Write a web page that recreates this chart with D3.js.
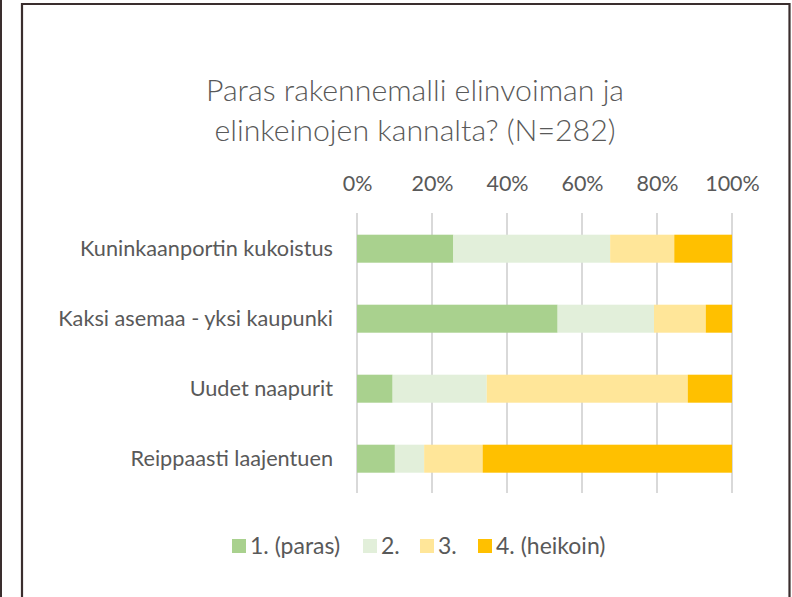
<!DOCTYPE html>
<html>
<head>
<meta charset="utf-8">
<script src="https://cdn.jsdelivr.net/npm/d3@7"></script>
<style>
  html, body { margin: 0; padding: 0; background: #fff; }
  svg { display: block; font-family: Lato, "Open Sans", sans-serif; }
</style>
</head>
<body>
<svg id="chart" width="792" height="597"></svg>
<script>
// Survey: best structural model for vitality and business (N=282), share of answers per rank
const categories = ["Kuninkaanportin kukoistus", "Kaksi asemaa - yksi kaupunki", "Uudet naapurit", "Reippaasti laajentuen"];
const seriesNames = ["1. (paras)", "2.", "3.", "4. (heikoin)"];
const rank1 = [25.7, 53.5, 9.5, 10.1];
const rank2 = [41.8, 25.7, 25.1, 7.8];
const rank3 = [17.1, 13.8, 53.6, 15.6];
const rank4 = [15.4, 7.0, 11.8, 66.5];
const tickValues = [0, 20, 40, 60, 80, 100];
const colors = ["#A9D18E", "#E2EFDA", "#FFE699", "#FFC000"];
const titleLines = ["Paras rakennemalli elinvoiman ja", "elinkeinojen kannalta? (N=282)"];

const svg = d3.select("#chart");
const textColor = "#595959";

// outer frame
svg.append("line").attr("x1", 1).attr("x2", 1).attr("y1", 0).attr("y2", 597)
  .attr("stroke", "#3a2e2e").attr("stroke-width", 2);
svg.append("path").attr("d", "M22,597 V4 H789.5 V597")
  .attr("fill", "none").attr("stroke", "#3a2e2e").attr("stroke-width", 2.2);

// title
svg.append("g").selectAll("text").data(titleLines).join("text")
  .attr("x", 415).attr("y", (d, i) => 101 + i * 40)
  .attr("text-anchor", "middle")
  .attr("font-size", 30.3).attr("font-weight", 300).attr("fill", textColor)
  .text(d => d);

// stacked data
const rows = categories.map((c, i) => ({ cat: c, v: [rank1[i], rank2[i], rank3[i], rank4[i]] }));
const keys = [0, 1, 2, 3];
const stack = d3.stack().keys(keys).value((d, k) => d.v[k]);
const layers = stack(rows);

const x = d3.scaleLinear().domain([0, 100]).range([357, 732]);
const y = d3.scaleBand().domain(categories).range([213.7, 493.7]).paddingInner(0.6).paddingOuter(0.3);

// gridlines
svg.append("g").selectAll("line").data(tickValues).join("line")
  .attr("x1", d => x(d)).attr("x2", d => x(d))
  .attr("y1", 213).attr("y2", 493)
  .attr("stroke", "#d9d9d9").attr("stroke-width", 2);

// top axis labels
const xAxis = d3.axisTop(x).tickValues(tickValues).tickFormat(d => d + "%").tickSize(0).tickPadding(0);
const gx = svg.append("g").attr("transform", "translate(0,191)").call(xAxis);
gx.select(".domain").remove();
gx.selectAll("text").attr("font-size", 21.5).attr("fill", textColor).attr("font-family", "Lato, sans-serif");

// category labels
const yAxis = d3.axisLeft(y).tickSize(0).tickPadding(0);
const gy = svg.append("g").attr("transform", "translate(333,0)").call(yAxis);
gy.select(".domain").remove();
gy.selectAll("text").attr("font-size", 21.7).attr("fill", textColor).attr("font-family", "Lato, sans-serif");

// bars
svg.append("g").selectAll("g").data(layers).join("g")
  .attr("fill", (d, i) => colors[i])
  .selectAll("rect").data(d => d).join("rect")
  .attr("x", d => x(d[0]))
  .attr("width", d => x(d[1]) - x(d[0]))
  .attr("y", d => y(d.data.cat))
  .attr("height", y.bandwidth());

// legend
const legendX = [232, 363, 420, 478];
const lg = svg.append("g").selectAll("g").data(seriesNames).join("g")
  .attr("transform", (d, i) => `translate(${legendX[i]},539)`);
lg.append("rect").attr("width", 14).attr("height", 14).attr("fill", (d, i) => colors[i]);
lg.append("text").attr("x", 18).attr("y", 15)
  .attr("font-size", 23).attr("fill", textColor).text(d => d);
</script>
</body>
</html>
